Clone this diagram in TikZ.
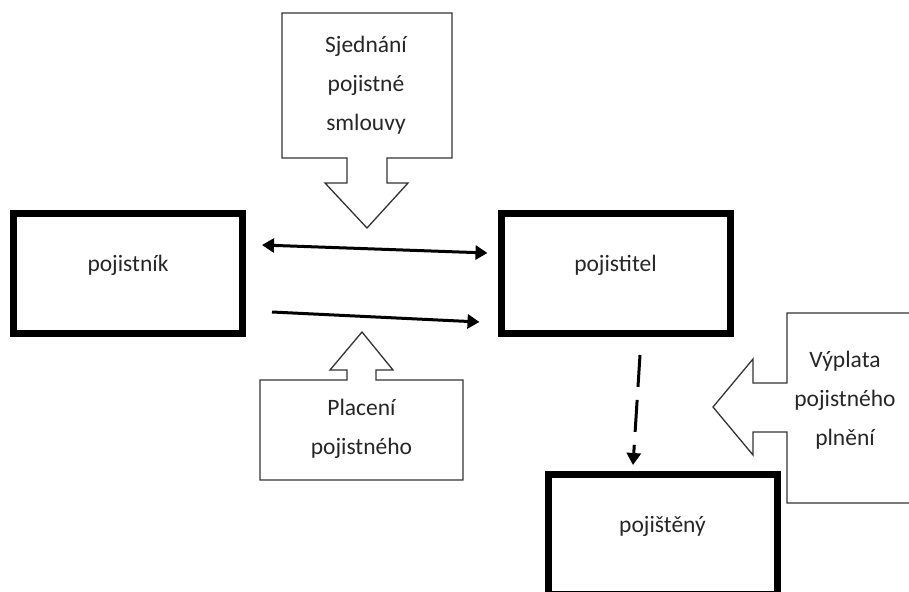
\documentclass[tikz,border=0pt]{standalone}
\usepackage{fontspec}
\setmainfont{Carlito}
\usetikzlibrary{arrows.meta}
\tikzset{
    party/.style={draw,line width=7pt,minimum width=229pt,minimum height=120pt,
        text height=17pt,text depth=21pt,font=\fontsize{23.5}{39}\selectfont,text=black!85},
    callout/.style={draw=black!80,line width=1.3pt,line join=miter},
    note/.style={align=center,font=\fontsize{23.5}{39}\selectfont,text=black!85},
    flow/.style={line width=3pt,-{Triangle[length=12pt,width=14pt]}},
}
\begin{document}
\begin{tikzpicture}[x=1pt,y=-1pt]
        \useasboundingbox (0,0) rectangle (909,591);
        %% parties
        \node[party] (pojistnik) at (128,273.5) {pojistník};
        \node[party] (pojistitel) at (615.5,273.5) {pojistitel};
        \node[party] (pojisteny) at (662.5,534.5) {pojištěný};
        %% callouts
        \draw[callout] (282,13) -- (452,13) -- (452,158) -- (387,158) -- (387,183) -- (408,183)
            -- (367,228) -- (325,183) -- (347,183) -- (347,158) -- (282,158) -- cycle;
        \node[note] (sjednani) at (366,85) {Sjednání\\pojistné\\smlouvy};
        \draw[callout] (260,380) -- (347,380) -- (347,370) -- (330,370) -- (362,332) -- (393,370)
            -- (376,370) -- (376,380) -- (463,380) -- (463,480) -- (260,480) -- cycle;
        \node[note] (placeni) at (361.5,429) {Placení\\pojistného};
        \draw[callout] (920,313) -- (787,313) -- (787,383) -- (753,383) -- (753,359) -- (713,407)
            -- (753,455) -- (753,432) -- (787,432) -- (787,503) -- (920,503);
        \node[note] (vyplata) at (845,400) {Výplata\\pojistného\\plnění};
        %% arrows
        \draw[flow,{Triangle[length=12pt,width=14pt]}-{Triangle[length=12pt,width=14pt]}]
            ([shift={(16,-28.5)}]pojistnik.east) -- ([shift={(-10,-20.5)}]pojistitel.west);
        \draw[flow] ([shift={(26,38.5)}]pojistnik.east) -- ([shift={(-18,48.5)}]pojistitel.west);
        \draw[flow,dash pattern=on 32pt off 13pt]
            ([shift={(24.5,18)}]pojistitel.south) -- ([shift={(-29.5,-6)}]pojisteny.north);
    \end{tikzpicture}
\end{document}
